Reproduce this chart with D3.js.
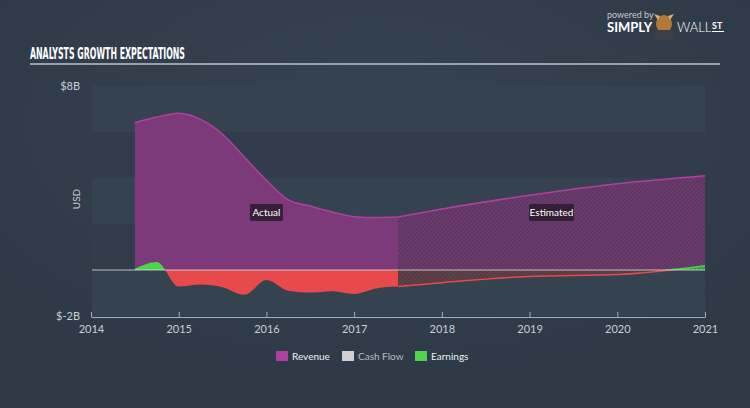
<!DOCTYPE html>
<html><head><meta charset="utf-8">
<script src="https://cdn.jsdelivr.net/npm/d3@7"></script>
<style>
html,body{margin:0;padding:0;background:#313d4b;}
svg{display:block;}
text{font-family:Lato,"Open Sans",sans-serif;}
</style></head>
<body>
<svg id="c" width="750" height="408"></svg>
<script>
// ---- data ----
const actualYears     = [2014.5, 2014.75, 2015.0, 2015.25, 2015.5, 2015.75, 2016.0, 2016.25, 2016.5, 2016.75, 2017.0, 2017.25, 2017.5];
const revenueActual   = [6.4, 6.65, 6.82, 6.55, 5.9, 4.9, 3.9, 3.05, 2.78, 2.52, 2.32, 2.28, 2.3];
const earningsActual  = [0.05, 0.35, -0.72, -0.63, -0.75, -1.08, -0.43, -0.9, -0.98, -0.92, -1.04, -0.8, -0.72];
const estYears        = [2017.5, 2018, 2019, 2020, 2021];
const revenueEst      = [2.3, 2.65, 3.25, 3.75, 4.1];
const earningsEst     = [-0.72, -0.55, -0.28, -0.2, 0.18];
const xTicks          = [2014, 2015, 2016, 2017, 2018, 2019, 2020, 2021];
const yTickValues     = [8, -2];
const yTickLabels     = ["$8B", "$-2B"];
const legendNames     = ["Revenue", "Cash Flow", "Earnings"];
const legendColors    = ["#b0409f", "#cfcfcf", "#4cd44c"];

(function(){
const svg = d3.select("#c");
const W = 750, H = 408;
const pL = 91, pR = 705, pT = 86, pB = 316;

const x = d3.scaleLinear().domain([2014, 2021]).range([pL, pR]);
const y = d3.scaleLinear().domain([-2, 8]).range([pB, pT]);

const defs = svg.append("defs");
const rg = defs.append("radialGradient").attr("id","bg").attr("cx","50%").attr("cy","30%").attr("r","75%");
rg.append("stop").attr("offset","0%").attr("stop-color","#364352");
rg.append("stop").attr("offset","100%").attr("stop-color","#2d3845");
svg.append("rect").attr("width",W).attr("height",H).attr("fill","url(#bg)");

function hatch(id, base, line){
  const p = defs.append("pattern").attr("id",id).attr("patternUnits","userSpaceOnUse")
    .attr("width",3).attr("height",3).attr("patternTransform","rotate(45)");
  p.append("rect").attr("width",3).attr("height",3).attr("fill",base);
  p.append("line").attr("x1",0).attr("y1",0).attr("x2",0).attr("y2",3).attr("stroke",line).attr("stroke-width",1.2);
}
hatch("hRev", "#6c3b6d", "#4a2d50");
hatch("hNeg", "#604149", "#42333d");
hatch("hPos", "#3fae45", "#2c6a3a");

defs.append("clipPath").attr("id","pos").append("rect")
  .attr("x",pL).attr("y",0).attr("width",pR-pL).attr("height",y(0));
defs.append("clipPath").attr("id","neg").append("rect")
  .attr("x",pL).attr("y",y(0)).attr("width",pR-pL).attr("height",H-y(0));

const bandEdges = d3.range(8, -2, -2);
svg.append("g").selectAll("rect").data(bandEdges).join("rect")
  .attr("x", pL+1).attr("width", pR-pL-1)
  .attr("y", d => y(d)).attr("height", d => y(d-2)-y(d))
  .attr("fill", (d,i) => i%2===0 ? "#35424f" : "#313d4a");

svg.append("text").attr("x",30).attr("y",59).text("ANALYSTS GROWTH EXPECTATIONS")
  .attr("fill","#ffffff").attr("font-size",15).attr("font-weight","bold")
  .style("font-family","'DejaVu Sans Condensed','Liberation Sans Narrow',sans-serif")
  .attr("textLength",155).attr("lengthAdjust","spacingAndGlyphs");
svg.append("line").attr("x1",30).attr("x2",720).attr("y1",64).attr("y2",64)
  .attr("stroke","#b9c3cd").attr("stroke-width",1.3);

const lg = svg.append("g");
lg.append("text").attr("x",607).attr("y",18).text("powered by").attr("fill","#c3c9cf").attr("font-size",9);
lg.append("text").attr("x",607).attr("y",32).text("SIMPLY").attr("fill","#ffffff").attr("font-size",13).attr("font-weight","bold");
lg.append("ellipse").attr("cx",664).attr("cy",24).attr("rx",8).attr("ry",9).attr("fill","#b27a3a");
lg.append("path").attr("d","M654,14 L658,20 L660,16 Z M674,14 L670,20 L668,16 Z").attr("fill","#d8b070");
lg.append("path").attr("d","M656,30 L672,30 L674,40 L654,40 Z").attr("fill","#3b3f48");
lg.append("text").attr("x",677).attr("y",32).text("WALL").attr("fill","#ffffff").attr("font-size",13).attr("font-weight",300);
lg.append("text").attr("x",712).attr("y",29).text("ST").attr("fill","#ffffff").attr("font-size",9).attr("font-weight","bold");
lg.append("line").attr("x1",712).attr("x2",724).attr("y1",31.5).attr("y2",31.5).attr("stroke","#fff").attr("stroke-width",1);

const ptsA = actualYears.map((t,i)=>({t, r:revenueActual[i], e:earningsActual[i]}));
const ptsE = estYears.map((t,i)=>({t, r:revenueEst[i], e:earningsEst[i]}));
const curve = d3.curveMonotoneX;
const revArea = d3.area().x(d=>x(d.t)).y0(y(0)).y1(d=>y(d.r)).curve(curve);
const revLine = d3.line().x(d=>x(d.t)).y(d=>y(d.r)).curve(curve);
const eArea = d3.area().x(d=>x(d.t)).y0(y(0)).y1(d=>y(d.e)).curve(curve);
const eLine = d3.line().x(d=>x(d.t)).y(d=>y(d.e)).curve(curve);

svg.append("path").datum(ptsA).attr("d",revArea).attr("fill","#7c3a7a");
svg.append("path").datum(ptsA).attr("d",revLine).attr("fill","none").attr("stroke","#b0409f").attr("stroke-width",1.5);
svg.append("path").datum(ptsE).attr("d",revArea).attr("fill","url(#hRev)");
svg.append("path").datum(ptsE).attr("d",revLine).attr("fill","none").attr("stroke","#b0409f").attr("stroke-width",1.5);

svg.append("path").datum(ptsA).attr("d",eArea).attr("fill","#4cd44c").attr("clip-path","url(#pos)");
svg.append("path").datum(ptsA).attr("d",eArea).attr("fill","#e84a4c").attr("clip-path","url(#neg)");
svg.append("path").datum(ptsE).attr("d",eArea).attr("fill","url(#hPos)").attr("clip-path","url(#pos)");
svg.append("path").datum(ptsE).attr("d",eArea).attr("fill","url(#hNeg)").attr("clip-path","url(#neg)");
svg.append("path").datum(ptsE).attr("d",eLine).attr("fill","none").attr("stroke","#e84a4c").attr("stroke-width",1.5).attr("clip-path","url(#neg)");
svg.append("path").datum(ptsE).attr("d",eLine).attr("fill","none").attr("stroke","#4cd44c").attr("stroke-width",1.5).attr("clip-path","url(#pos)");

svg.append("line").attr("x1",pL+1).attr("x2",pR).attr("y1",y(0)).attr("y2",y(0))
  .attr("stroke","#e6e6e6").attr("stroke-width",1.2).attr("opacity",0.75);

svg.append("g").selectAll("text").data(yTickValues).join("text")
  .attr("x",80).attr("y",d=>y(d)).attr("dy","0.35em").attr("text-anchor","end")
  .text((d,i)=>yTickLabels[i]).attr("fill","#c8ced5").attr("font-size",11);
svg.append("text").attr("transform",`translate(80,${(pT+pB)/2 - 2}) rotate(-90)`)
  .attr("text-anchor","middle").text("USD").attr("fill","#c8ced5").attr("font-size",10);

const xAxis = d3.axisBottom(x).tickValues(xTicks).tickFormat(d3.format("d")).tickSize(-5).tickSizeOuter(0).tickPadding(8);
const gx = svg.append("g").attr("transform",`translate(0,317)`).call(xAxis);
gx.select(".domain").attr("stroke","#9fb0c0");
gx.selectAll(".tick line").attr("stroke","#9fb0c0");
gx.selectAll(".tick text").attr("fill","#c8ced5").attr("font-size",11).style("font-family","Lato,'Open Sans',sans-serif");

function tag(tx, ty, label, w){
  const g = svg.append("g");
  g.append("rect").attr("x",tx-w/2).attr("y",ty-8.5).attr("width",w).attr("height",17).attr("rx",1.5)
    .attr("fill","#2a1b2d").attr("opacity",0.85);
  g.append("text").attr("x",tx).attr("y",ty).attr("dy","0.35em").attr("text-anchor","middle")
    .text(label).attr("fill","#ffffff").attr("font-size",10);
}
tag(x(2016.0), y(2.5), "Actual", 33);
tag(x(2019.25), y(2.5), "Estimated", 45);

const legX = [276, 342, 415];
const lgd = svg.append("g");
legendNames.forEach((n,i)=>{
  lgd.append("rect").attr("x",legX[i]).attr("y",351).attr("width",12).attr("height",10).attr("fill",legendColors[i]);
  lgd.append("text").attr("x",legX[i]+16).attr("y",356).attr("dy","0.35em").text(n)
    .attr("fill", i===1 ? "#b7bcc3" : "#eef0f2").attr("font-size",10);
});
})();
</script>
</body></html>
